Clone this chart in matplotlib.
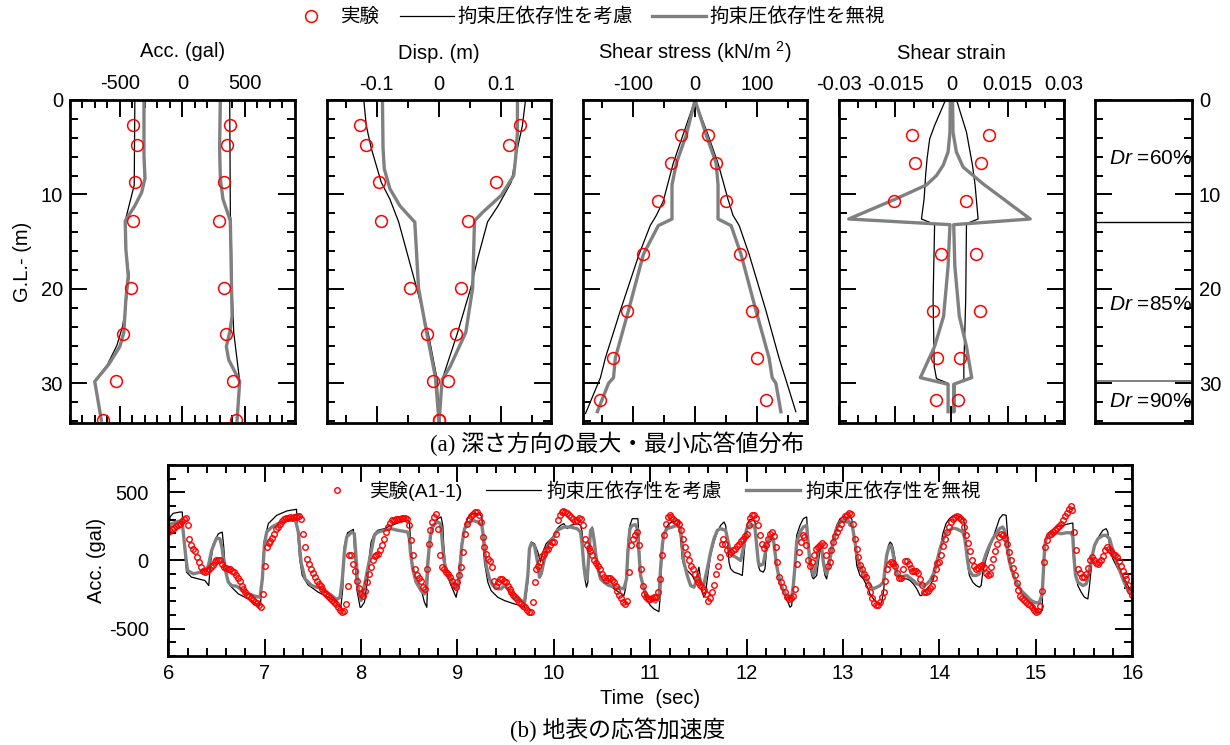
# 深さ方向の最大・最小応答値分布 (a) と地表の応答加速度 (b)

import matplotlib.pyplot as plt
import numpy as np
from matplotlib.lines import Line2D
from matplotlib.ticker import MultipleLocator

plt.rcParams['font.family'] = ['Liberation Sans', 'Noto Sans CJK JP']
plt.rcParams['axes.unicode_minus'] = False
plt.rcParams['mathtext.fontset'] = 'custom'
plt.rcParams['mathtext.rm'] = 'Liberation Sans'
plt.rcParams['mathtext.it'] = 'Liberation Sans:italic'

# ---------------- (a) 深さ方向分布 ----------------
dep_a = [2.7, 4.8, 8.7, 12.8, 19.9, 24.8, 29.7, 33.9]   # 加速度・変位の計測深さ
dep_s = [3.7, 6.7, 10.7, 16.35, 22.3, 27.3, 31.8]      # 応力・ひずみの計測深さ

# 加速度 (gal)
acc_exp_min = [-399, -362, -381, -399, -413, -474, -533, -633]
acc_exp_max = [378, 354, 330, 292, 330, 348, 402, 426]
acc_dep_min = [(0, -381), (9.0, -386), (12.8, -458), (15.8, -453), (18.6, -426), (20.0, -440),
               (22.0, -453), (24.0, -480), (26.0, -525), (28.0, -600), (29.8, -702), (33.9, -649)]
acc_dep_max = [(0, 378), (12.2, 383), (12.8, 389), (20.0, 397), (24.6, 410), (29.8, 458), (33.9, 437)]
acc_ind_min = [(0, -308), (5.9, -308), (8.3, -300), (9.8, -327), (11.2, -381), (12.6, -448),
               (12.8, -458), (15.8, -453), (18.6, -434), (21.1, -453), (24.6, -469), (26.1, -501),
               (28.0, -590), (29.8, -702), (33.9, -649)]
acc_ind_max = [(0, 303), (5.1, 297), (8.3, 303), (10.5, 324), (12.8, 383), (22.9, 397), (24.6, 378),
               (26.1, 351), (27.5, 370), (29.8, 458), (33.9, 437)]

# 変位 (m)
disp_exp_min = [-0.127, -0.118, -0.097, -0.093, -0.047, -0.020, -0.009, 0.0]
disp_exp_max = [0.130, 0.112, 0.092, 0.046, 0.035, 0.027, 0.015, 0.0]
disp_dep_min = [(0, -0.121), (2.7, -0.117), (5.1, -0.109), (8.7, -0.093), (10.5, -0.079), (12.9, -0.065),
                (19.9, -0.036), (24.8, -0.017), (29.6, -0.003), (34.1, 0.0)]
disp_dep_max = [(0, 0.139), (2.7, 0.134), (4.8, 0.127), (8.7, 0.116), (11.2, 0.095), (12.9, 0.078),
                (16.8, 0.062), (19.9, 0.051), (24.8, 0.029), (29.6, 0.005), (34.1, 0.0)]
disp_ind_min = [(0, -0.091), (5.1, -0.090), (7.3, -0.088), (9.4, -0.079), (11.2, -0.063), (12.8, -0.041),
                (12.9, -0.039), (19.9, -0.033), (24.6, -0.020), (29.3, -0.006), (34.1, 0.0)]
disp_ind_max = [(0, 0.126), (3.4, 0.126), (6.2, 0.123), (8.0, 0.120), (10.1, 0.100), (11.9, 0.070),
                (12.8, 0.057), (19.9, 0.054), (24.6, 0.043), (28.2, 0.018), (29.6, 0.005), (34.1, 0.0)]

# せん断応力 (kN/m2)
tau_exp_min = [-23, -38, -60, -84, -110, -132, -152]
tau_exp_max = [21, 34, 50, 73, 91, 100, 114]
tau_dep_min = [(0, 0), (6.7, -35), (10.7, -51), (12.2, -62), (13.3, -72), (16.35, -90), (22.3, -120),
               (27.3, -144), (29.4, -152), (33.2, -176)]
tau_dep_max = [(0, 0), (3.7, 21), (6.7, 37), (10.5, 53), (12.2, 61), (13.3, 71), (16.35, 87), (22.3, 114),
               (27.3, 135), (29.6, 146), (33.0, 162)]
tau_ind_min = [(0, 0), (3.7, -14), (6.7, -30), (9.0, -37), (12.6, -37), (13.3, -59), (16.35, -83),
               (22.3, -107), (27.3, -128), (29.4, -131), (30.0, -139), (33.0, -157)]
tau_ind_max = [(0, 0), (3.7, 18), (6.7, 34), (9.0, 37), (12.6, 37), (13.3, 58), (16.35, 74), (22.3, 98),
               (27.3, 119), (29.4, 124), (30.0, 130), (33.0, 138)]

# せん断ひずみ
gam_exp_min = [-0.0106, -0.0098, -0.0152, -0.0029, -0.0050, -0.0039, -0.0040]
gam_exp_max = [0.0101, 0.0078, 0.0038, 0.0066, 0.0077, 0.0022, 0.0018]
gam_dep_min = [(0.2, -0.0018), (2.7, -0.0045), (4.1, -0.0058), (6.2, -0.0065), (8.0, -0.0069),
               (10.5, -0.0073), (12.6, -0.0080), (13.1, -0.0049), (13.3, -0.0045), (21.1, -0.0049),
               (28.2, -0.0046), (29.5, -0.0040), (30.0, -0.0009), (33.0, -0.0009)]
gam_dep_max = [(0.2, 0.0015), (3.4, 0.0040), (6.9, 0.0056), (9.0, 0.0063), (12.6, 0.0071), (13.1, 0.0040),
               (21.1, 0.0038), (28.2, 0.0033), (29.6, 0.0033), (30.1, 0.0009), (33.0, 0.0009)]
gam_ind_min = [(0, -0.0003), (3.4, -0.0004), (5.5, -0.0009), (6.9, -0.0022), (8.0, -0.0040), (9.0, -0.0067),
               (10.5, -0.0150), (12.6, -0.0274), (13.2, -0.0004), (17.6, -0.0009), (22.9, -0.0021),
               (26.1, -0.0045), (29.4, -0.0083), (30.1, -0.0009), (33.0, -0.0009)]
gam_ind_max = [(0, 0.0003), (3.4, 0.0004), (5.5, 0.0013), (7.1, 0.0031), (8.0, 0.0058), (8.9, 0.0085),
               (12.6, 0.0210), (13.2, 0.0006), (17.6, 0.0009), (22.9, 0.0021), (26.1, 0.0040),
               (29.4, 0.0054), (30.1, 0.0006), (33.0, 0.0006)]

# 地盤の相対密度
layer_bounds = [12.9, 29.8]
dr_depths = [6.2, 21.7, 31.9]
dr_values = ['60', '85', '90']

# ---------------- (b) 地表の応答加速度 ----------------
# 実験(A1-1), dt = 0.02 s, 6.00〜16.00 s
acc_exp = [
    208, 218, 233, 240, 250, 257, 267, 287, 304, 314,
    257, 159, 110, 86, 66, 25, -12, -49, -74, -86,
    -78, -66, -51, -32, -12, 0, 7, 5, -25, -49,
    -56, -61, -66, -74, -86, -103, -127, -154, -184, -208,
    -233, -250, -262, -274, -287, -301, -314, -328, -341, -245,
    -37, 98, 130, 145, 164, 196, 228, 245, 270, 289,
    301, 309, 314, 316, 314, 316, 321, 328, 326, 301,
    196, 98, 12, -25, -61, -91, -118, -147, -172, -189,
    -208, -228, -243, -257, -272, -287, -301, -318, -338, -363,
    -380, -370, -318, -184, 37, 37, -25, -74, -150, -200,
    -245, -257, -221, -159, -98, -49, 0, 32, 42, 49,
    74, 110, 159, 208, 245, 277, 294, 299, 301, 304,
    306, 311, 314, 311, 301, 257, 147, 37, -61, -105,
    -130, -154, -196, -208, -61, 123, 221, 282, 319, 343,
    233, 37, -49, -66, -81, -98, -123, -147, -179, -196,
    -159, -110, -49, 61, 196, 270, 301, 326, 343, 355,
    355, 336, 282, 172, 98, 49, 12, -7, -49, -147,
    -184, -159, -135, -135, -147, -159, -184, -208, -233, -252,
    -270, -282, -301, -319, -331, -343, -360, -380, -375, -306,
    -159, -61, -42, -12, 32, 49, 74, 86, 110, 135,
    135, 196, 294, 336, 355, 360, 355, 345, 336, 321,
    306, 287, 294, 314, 306, 257, 159, 115, 91, 66,
    37, 7, -17, -42, -66, -98, -123, -140, -130, -125,
    -140, -159, -189, -221, -252, -277, -301, -319, -294, -86,
    110, 154, 189, 208, 110, -61, -184, -245, -270, -282,
    -282, -277, -270, -270, -233, -135, 37, 184, 270, 319,
    331, 319, 301, 289, 282, 270, 221, 159, 98, 49,
    0, -37, -66, -98, -135, -159, -179, -196, -216, -245,
    -294, -277, -233, -179, -98, -37, 25, 123, 154, 123,
    74, 49, 61, 74, 86, 105, 120, 140, 160, 180,
    196, 262, 311, 336, 336, 311, 257, 184, 118, 91,
    110, 159, 196, 208, 179, 98, -12, -123, -159, -196,
    -233, -270, -282, -274, -262, -208, -25, 61, 135, 184,
    172, 110, 0, -42, -12, 42, 81, 98, 110, 130,
    115, 42, -42, -12, 74, 135, 179, 208, 240, 270,
    301, 323, 336, 345, 341, 270, 159, 86, 25, -32,
    -66, -98, -123, -179, -233, -277, -311, -326, -326, -301,
    -270, -233, -147, -66, -25, -12, -22, -42, -91, -130,
    -130, -61, -7, -2, -25, -56, -74, -76, -76, -93,
    -135, -179, -228, -233, -221, -200, -184, -130, -61, -20,
    -12, 42, 103, 159, 208, 247, 279, 306, 319, 326,
    321, 306, 287, 245, 189, 130, 66, 0, -37, -61,
    -56, -42, -32, -49, -91, -110, -98, -49, 12, 66,
    123, 172, 196, 189, 167, 123, 61, 0, -56, -110,
    -164, -216, -257, -277, -292, -306, -319, -326, -343, -360,
    -375, -370, -331, -221, -12, 98, 152, 184, 196, 208,
    225, 238, 250, 267, 294, 323, 350, 375, 397, 368,
    208, 74, -66, -91, -123, -118, -98, -56, 0, 22,
    5, -20, -25, -12, 5, 32, 74, 98, 81, 66,
    51, 37, 22, -7, -42, -74, -105, -135, -179, -221,
    -252,
]
t_exp = np.linspace(6.0, 16.0, len(acc_exp))

# 拘束圧依存性を考慮 (time, gal)
sim_dep = [
    (6.00, 213), (6.02, 320), (6.05, 345), (6.12, 355), (6.145, 355), (6.166, 110), (6.19, -86),
    (6.24, -122), (6.38, -147), (6.42, -184), (6.436, -37), (6.467, 122), (6.52, 196), (6.56, 208),
    (6.574, 110), (6.595, -86), (6.64, -184), (6.727, -245), (6.83, -282), (6.94, -331), (6.958, -306),
    (6.976, -135), (6.993, 135), (7.038, 270), (7.125, 331), (7.23, 363), (7.33, 375), (7.34, 233),
    (7.363, 12), (7.39, -110), (7.45, -179), (7.557, -233), (7.695, -282), (7.79, -343), (7.81, -208),
    (7.827, 110), (7.86, 203), (7.92, 228), (7.94, -12), (7.955, -208), (7.99, -343),
    (8.00, -343), (8.035, -306), (8.069, -135), (8.087, 37), (8.104, 135), (8.138, 196), (8.173, 221),
    (8.242, 233), (8.311, 257), (8.415, 282), (8.484, 294), (8.502, 282), (8.512, 159), (8.536, -37),
    (8.571, -135), (8.623, -208), (8.657, -306), (8.682, -343), (8.692, -135), (8.709, 110),
    (8.744, 233), (8.796, 306), (8.830, 319), (8.848, 257), (8.858, 110), (8.882, -86), (8.934, -184),
    (8.986, -270), (9.003, -208), (9.021, -12), (9.055, 159), (9.090, 282), (9.125, 331), (9.159, 343),
    (9.228, 343), (9.253, 319), (9.263, 184), (9.280, -12), (9.315, -159), (9.349, -221), (9.419, -270),
    (9.488, -294), (9.592, -319), (9.661, -331), (9.696, -343), (9.730, -159), (9.747, 61), (9.765, 135),
    (9.799, 123), (9.834, 61), (9.862, -12), (9.886, 61), (9.920, 123), (9.972, 159),
    (10.00, 184), (10.035, 233), (10.069, 257), (10.104, 270), (10.138, 233), (10.173, 257),
    (10.242, 270), (10.277, 257), (10.294, 208), (10.311, -12), (10.322, -135), (10.339, -196),
    (10.353, -159), (10.363, 110), (10.381, 221), (10.398, 245), (10.415, 184), (10.450, -12),
    (10.484, -110), (10.519, -159), (10.571, -172), (10.623, -208), (10.675, -233), (10.727, -257),
    (10.744, -208), (10.754, -61), (10.768, 135), (10.789, 257), (10.813, 306), (10.872, 306),
    (10.882, 184), (10.893, -12), (10.907, -135), (10.934, -233), (10.969, -294), (11.003, -331),
    (11.038, -355), (11.090, -375), (11.107, -233), (11.118, -12), (11.135, 147), (11.159, 233),
    (11.194, 270), (11.246, 287), (11.298, 294), (11.315, 159), (11.332, 12), (11.349, -37),
    (11.384, -74), (11.436, -110), (11.471, -159), (11.488, -98), (11.505, -49), (11.522, -135),
    (11.540, -233), (11.557, -270), (11.574, -245), (11.592, -135), (11.626, 37), (11.661, 135),
    (11.696, 208), (11.730, 257), (11.765, 282), (11.782, 257), (11.799, 159), (11.817, -12),
    (11.834, -61), (11.869, -86), (11.920, -98), (11.955, -110), (11.972, 37), (11.990, 184),
    (12.007, 270), (12.035, 301), (12.069, 294), (12.087, 282), (12.104, 110), (12.121, -37),
    (12.138, -74), (12.173, -86), (12.190, -61), (12.208, 86), (12.242, 159), (12.277, 147),
    (12.311, -12), (12.346, -159), (12.381, -233), (12.415, -282), (12.450, -343), (12.467, -331),
    (12.484, -208), (12.502, -12), (12.519, 184), (12.554, 257), (12.588, 306), (12.623, 319),
    (12.640, 110), (12.657, -37), (12.675, -110), (12.692, -135), (12.727, -110), (12.744, -12),
    (12.761, 74), (12.779, 61), (12.796, -37), (12.813, -110), (12.830, -135), (12.848, -61),
    (12.865, 61), (12.900, 172), (12.934, 257), (12.969, 306), (13.003, 319), (13.073, 314),
    (13.090, 306), (13.107, 208), (13.125, 110), (13.142, -37), (13.176, -110), (13.211, -135),
    (13.246, -184), (13.280, -245), (13.315, -282), (13.349, -306), (13.384, -319), (13.401, -306),
    (13.419, -233), (13.436, -110), (13.453, 37), (13.471, 110), (13.488, 135), (13.505, 123),
    (13.522, 86), (13.540, 12), (13.557, -61), (13.574, -110), (13.592, -135), (13.661, -135),
    (13.696, -147), (13.730, -172), (13.765, -208), (13.799, -257), (13.817, -257), (13.834, -233),
    (13.869, -208), (13.903, -184), (13.938, -135), (13.972, -37),
    (14.007, 74), (14.035, 196), (14.069, 270), (14.104, 306), (14.138, 326), (14.173, 331),
    (14.208, 319), (14.242, 306), (14.260, 270), (14.277, 110), (14.294, -37), (14.311, -110),
    (14.346, -159), (14.381, -184), (14.415, -196), (14.433, -184), (14.450, -86), (14.484, 12),
    (14.519, 86), (14.554, 159), (14.588, 233), (14.623, 306), (14.657, 336), (14.692, 331),
    (14.702, 233), (14.720, 61), (14.744, -49), (14.779, -135), (14.830, -208), (14.900, -282),
    (14.969, -331), (15.003, -380), (15.038, -380), (15.066, -368), (15.073, -135), (15.083, 61),
    (15.107, 159), (15.142, 208), (15.211, 245), (15.280, 257), (15.349, 270), (15.384, 274),
    (15.394, 110), (15.412, -86), (15.436, -184), (15.471, -233), (15.505, -270), (15.540, -282),
    (15.557, -184), (15.574, -61), (15.592, 61), (15.626, 135), (15.661, 184), (15.696, 221),
    (15.730, 233), (15.747, 208), (15.765, 110), (15.799, 12), (15.851, -61), (15.903, -110),
    (15.955, -184), (16.00, -245),
]

# 拘束圧依存性を無視 (time, gal)
sim_indep = [
    (6.00, 221), (6.035, 270), (6.104, 287), (6.145, 282), (6.18, 37), (6.20, -74), (6.26, -98),
    (6.33, -86), (6.38, -74), (6.415, -42), (6.45, 74), (6.50, 164), (6.536, 159), (6.56, 86),
    (6.58, -37), (6.623, -159), (6.657, -184), (6.709, -189), (6.796, -233), (6.90, -262),
    (6.952, -270), (6.976, -135), (6.997, 110), (7.021, 208), (7.073, 245), (7.176, 282), (7.28, 301),
    (7.32, 294), (7.349, 208), (7.377, -12), (7.419, -135), (7.488, -184), (7.592, -208),
    (7.696, -257), (7.747, -287), (7.782, -270), (7.806, -135), (7.827, 61), (7.851, 172),
    (7.903, 208), (7.93, 196), (7.945, 61), (7.965, -184),
    (8.00, -294), (8.035, -184), (8.069, -61), (8.104, 61), (8.138, 184), (8.173, 208), (8.242, 221),
    (8.311, 233), (8.381, 221), (8.450, 213), (8.484, 208), (8.502, 159), (8.512, 61), (8.536, -61),
    (8.571, -159), (8.623, -221), (8.657, -245), (8.675, -233), (8.692, -12), (8.72, 184),
    (8.744, 257), (8.796, 282), (8.823, 270), (8.837, 184), (8.858, 12), (8.882, -74), (8.934, -135),
    (8.969, -196), (9.003, -208), (9.021, -110), (9.045, 110), (9.073, 233), (9.125, 282),
    (9.159, 294), (9.211, 282), (9.253, 257), (9.273, 159), (9.298, -37), (9.332, -135),
    (9.367, -184), (9.419, -208), (9.453, -208), (9.488, -184), (9.522, -208), (9.557, -245),
    (9.626, -282), (9.696, -306), (9.730, -110), (9.747, 86), (9.765, 123), (9.799, 110),
    (9.834, -25), (9.851, -123), (9.869, -98), (9.903, 12), (9.938, 110), (9.972, 147),
    (10.00, 172), (10.035, 221), (10.069, 233), (10.104, 245), (10.173, 245), (10.242, 233),
    (10.277, 208), (10.294, 110), (10.311, -37), (10.329, -135), (10.346, -135), (10.363, 37),
    (10.381, 221), (10.398, 233), (10.415, 159), (10.450, -37), (10.484, -135), (10.519, -159),
    (10.571, -184), (10.657, -196), (10.727, -208), (10.754, -135), (10.768, 61), (10.789, 233),
    (10.813, 257), (10.848, 262), (10.865, 233), (10.882, 61), (10.900, -110), (10.934, -208),
    (10.969, -257), (11.003, -282), (11.055, -306), (11.090, -282), (11.107, -61), (11.125, 110),
    (11.142, 196), (11.176, 233), (11.228, 245), (11.280, 257), (11.315, 233), (11.332, 110),
    (11.349, -12), (11.384, -110), (11.419, -184), (11.453, -196), (11.488, -135), (11.505, -110),
    (11.522, -159), (11.540, -184), (11.557, -172), (11.592, -61), (11.626, 61), (11.661, 159),
    (11.696, 221), (11.730, 233), (11.782, 221), (11.817, 110), (11.851, 37), (11.886, 25),
    (11.938, 0), (11.972, 110),
    (12.00, 233), (12.035, 257), (12.069, 257), (12.087, 233), (12.104, 110), (12.121, -12),
    (12.138, -37), (12.173, -25), (12.208, 110), (12.242, 184), (12.277, 159), (12.311, -37),
    (12.346, -159), (12.381, -221), (12.415, -257), (12.450, -282), (12.467, -270), (12.484, -184),
    (12.502, -37), (12.519, 135), (12.554, 208), (12.588, 245), (12.623, 257), (12.640, 110),
    (12.657, -12), (12.692, -110), (12.709, -86), (12.727, -12), (12.744, 86), (12.761, 110),
    (12.779, 86), (12.796, -12), (12.813, -74), (12.830, -98), (12.848, -61), (12.865, 12),
    (12.900, 135), (12.934, 233), (12.969, 282), (13.003, 294), (13.038, 282), (13.055, 294),
    (13.073, 257), (13.090, 282), (13.107, 208), (13.125, 135), (13.142, 37), (13.176, -37),
    (13.211, -86), (13.246, -135), (13.280, -184), (13.315, -208), (13.349, -196), (13.384, -184),
    (13.419, -159), (13.436, -61), (13.453, 37), (13.471, 86), (13.488, 110), (13.505, 98),
    (13.522, 37), (13.540, -49), (13.557, -98), (13.592, -123), (13.661, -110), (13.730, -147),
    (13.765, -172), (13.834, -184), (13.869, -172), (13.903, -147), (13.938, -98), (13.972, -12),
    (14.007, 86), (14.035, 147), (14.069, 196), (14.104, 221), (14.138, 238), (14.173, 233),
    (14.208, 221), (14.242, 208), (14.260, 172), (14.277, 86), (14.294, -12), (14.311, -74),
    (14.346, -110), (14.381, -110), (14.415, -98), (14.450, -25), (14.484, 49), (14.519, 110),
    (14.554, 159), (14.588, 196), (14.623, 233), (14.657, 245), (14.675, 221), (14.699, 110),
    (14.720, 12), (14.744, -61), (14.796, -159), (14.848, -221), (14.900, -257), (14.952, -294),
    (15.003, -311), (15.038, -306), (15.066, -245), (15.080, -61), (15.093, 110), (15.114, 172),
    (15.159, 196), (15.211, 203), (15.263, 196), (15.315, 203), (15.367, 203), (15.384, 172),
    (15.394, 37), (15.412, -110), (15.436, -159), (15.488, -184), (15.522, -172), (15.540, -135),
    (15.574, 0), (15.609, 110), (15.644, 159), (15.696, 184), (15.730, 184), (15.765, 159),
    (15.799, 74), (15.851, -37), (15.903, -135), (15.955, -221), (16.00, -245),
]

labels = ['実験', '拘束圧依存性を考慮', '拘束圧依存性を無視']

GRAY = '#808080'
SPINE_W = 2.0
TICK_FS = 14.5

fig = plt.figure(figsize=(12.3, 7.45), dpi=100)


def style_axes(ax):
    for s in ax.spines.values():
        s.set_linewidth(SPINE_W)
    ax.tick_params(which='both', direction='in', top=True, bottom=True, left=True, right=True,
                   width=1.4, labelsize=TICK_FS)
    ax.tick_params(which='major', length=12)
    ax.tick_params(which='minor', length=6)


def profile_axes(left, width, xlim, ticks, ticklabels, minor, title):
    ax = fig.add_axes([left, 0.4322, width, 0.4336])
    style_axes(ax)
    ax.set_xlim(xlim)
    ax.set_ylim(34.2, 0)
    ax.set_xticks(ticks, ticklabels)
    ax.xaxis.set_minor_locator(MultipleLocator(minor))
    ax.yaxis.set_major_locator(MultipleLocator(10))
    ax.yaxis.set_minor_locator(MultipleLocator(2))
    ax.tick_params(labelbottom=False, labeltop=True, labelleft=False, pad=4)
    ax.set_title(title, fontsize=14.5, pad=12)
    return ax


def draw_profile(ax, dep_exp, exp_min, exp_max, dep_lines, ind_lines):
    for line in dep_lines:
        d, v = zip(*line)
        ax.plot(v, d, color='black', lw=0.9)
    for line in ind_lines:
        d, v = zip(*line)
        ax.plot(v, d, color=GRAY, lw=2.4)
    for vals in (exp_min, exp_max):
        ax.plot(vals, dep_exp, ls='none', marker='o', ms=8.5, mfc='none', mec='red', mew=1.1)


ax1 = profile_axes(0.0569, 0.1829, (-900, 900), [-500, 0, 500], ['-500', '0', '500'], 100,
                   'Acc. (gal)')
draw_profile(ax1, dep_a, acc_exp_min, acc_exp_max, [acc_dep_min, acc_dep_max], [acc_ind_min, acc_ind_max])
ax1.tick_params(labelleft=True, pad=5)
ax1.set_yticks([0, 10, 20, 30], ['0', '10', '20', '30'])
ax1.set_ylabel('G.L.- (m)', fontsize=14.5, labelpad=6)

ax2 = profile_axes(0.2659, 0.1821, (-0.18, 0.18), [-0.1, 0, 0.1], ['-0.1', '0', '0.1'], 0.05,
                   'Disp. (m)')
draw_profile(ax2, dep_a, disp_exp_min, disp_exp_max, [disp_dep_min, disp_dep_max],
             [disp_ind_min, disp_ind_max])

ax3 = profile_axes(0.4740, 0.1821, (-180, 180), [-100, 0, 100], ['-100', '0', '100'], 50,
                   'Shear stress (kN/m $^{2}$)')
draw_profile(ax3, dep_s, tau_exp_min, tau_exp_max, [tau_dep_min, tau_dep_max], [tau_ind_min, tau_ind_max])

ax4 = profile_axes(0.6821, 0.1829, (-0.03, 0.03), [-0.03, -0.015, 0, 0.015, 0.03],
                   ['-0.03', '-0.015', '0', '0.015', '0.03'], 0.005, 'Shear strain')
draw_profile(ax4, dep_s, gam_exp_min, gam_exp_max, [gam_dep_min, gam_dep_max], [gam_ind_min, gam_ind_max])

# 相対密度の柱状図
ax5 = fig.add_axes([0.8902, 0.4322, 0.0789, 0.4336])
style_axes(ax5)
ax5.set_xlim(0, 1)
ax5.set_ylim(34.2, 0)
ax5.set_xticks([])
ax5.tick_params(axis='x', which='both', top=False, bottom=False)
ax5.yaxis.set_major_locator(MultipleLocator(10))
ax5.yaxis.set_minor_locator(MultipleLocator(2))
ax5.tick_params(labelleft=False, labelright=True, pad=5)
ax5.axhline(layer_bounds[0], color='black', lw=1.0)
ax5.axhline(layer_bounds[1], color=GRAY, lw=1.4)
for d, v in zip(dr_depths, dr_values):
    ax5.text(0.14, d, r'$\mathit{Dr}$ =' + v + '%', fontsize=15, va='center', clip_on=False)

handles = [
    Line2D([], [], ls='none', marker='o', ms=8.5, mfc='none', mec='red', mew=1.1),
    Line2D([], [], color='black', lw=0.9),
    Line2D([], [], color=GRAY, lw=2.4),
]
fig.legend(handles, labels, loc='center', bbox_to_anchor=(0.475, 0.977), ncol=3, frameon=False,
           fontsize=14, handlelength=2.8, handletextpad=0.15, columnspacing=1.0)

fig.text(0.502, 0.405, '(a) 深さ方向の最大・最小応答値分布', ha='center', va='center', fontsize=16.5,
         family=['Liberation Serif', 'Noto Sans CJK JP'])

# ---------------- (b) 時刻歴 ----------------
axb = fig.add_axes([0.1368, 0.1195, 0.7837, 0.2564])
style_axes(axb)
axb.set_xlim(6, 16)
axb.set_ylim(-700, 700)
axb.xaxis.set_major_locator(MultipleLocator(1))
axb.xaxis.set_minor_locator(MultipleLocator(0.2))
axb.set_yticks([-500, 0, 500], ['-500', '0', '500'])
axb.yaxis.set_minor_locator(MultipleLocator(100))
axb.tick_params(axis='x', pad=6)
axb.tick_params(axis='y', pad=14)

t1, a1 = zip(*sim_dep)
t2, a2 = zip(*sim_indep)
axb.plot(t1, a1, color='black', lw=0.9)
axb.plot(t2, a2, color=GRAY, lw=2.4)
axb.plot(t_exp, acc_exp, ls='none', marker='o', ms=4.0, mfc='none', mec='red', mew=1.0)

axb.set_xlabel('Time  (sec)', fontsize=14.5, labelpad=4)
axb.set_ylabel('Acc. (gal)', fontsize=14.5, labelpad=2)

handles_b = [
    Line2D([], [], ls='none', marker='o', ms=4.0, mfc='none', mec='red', mew=1.0),
    Line2D([], [], color='black', lw=0.9),
    Line2D([], [], color=GRAY, lw=2.4),
]
axb.legend(handles_b, ['実験(A1-1)', labels[1], labels[2]], loc='center', bbox_to_anchor=(0.495, 0.864),
           ncol=3, frameon=False, fontsize=14, handlelength=2.8, handletextpad=0.3, columnspacing=1.2)

fig.text(0.502, 0.020, '(b) 地表の応答加速度', ha='center', va='center', fontsize=16.5,
         family=['Liberation Serif', 'Noto Sans CJK JP'])

fig.savefig('out.png', dpi=100)
